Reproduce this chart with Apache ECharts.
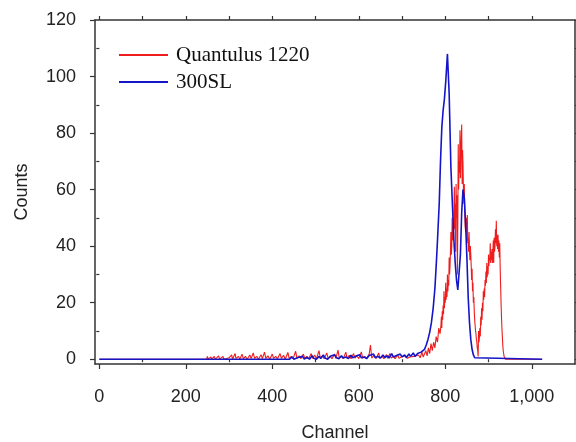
<!DOCTYPE html>
<html><head><meta charset="utf-8">
<script src="https://cdn.jsdelivr.net/npm/echarts@6/dist/echarts.min.js"></script>
<style>html,body{margin:0;padding:0;background:#fff}#c{width:576px;height:442px}</style>
</head><body><div id="c"></div>
<script>
var xLabelTicks = [0, 200, 400, 600, 800, 1000];
var xMinorTicks = [100, 300, 500, 700, 900];
var yLabelTicks = [0, 20, 40, 60, 80, 100, 120];
var yMinorTicks = [10, 30, 50, 70, 90, 110];
var seriesNames = ['Quantulus 1220', '300SL'];

// Quantulus 1220: sparse low-level region (channel, counts)
var quantulusLowChannel = [0,248,250,252,258,260,266,268,276,278,286,288,300,306,308,314,316,322,325,330,333,338,342,348,351,356,359,364,368,374,377,382,385,390,394,400,403,408,412,418,421,426,430,436,439,444,448,454,457,462,466,472,475,480,484,490,493,498,502,508,511,516,520,526,529,534,538,544,547,552,555,560,564,570,573,578,582,588,591,596,600,606,609,614,618,624,627,630,636,640,646,649,654,658,664,667,672,675,680,684,690,693,698,702,708,712,718,722,728,732,738,742,746,749,752,755,758,761,764,767,770,773,776,779,782,785,788];
var quantulusLowCounts = [0,0,1,0,0.8,0,1,0,1.2,0,1,0,0.5,1.5,0,2,0.3,1,0,1.8,0.2,1,0,1.5,0.2,2.2,0.3,1,0,1.6,0.2,2.5,0.3,1.2,0,1.8,0.3,1,0.2,2,0.3,1.4,0,2.4,0.3,1,0.2,2.8,0.4,1.2,0.2,1.8,0.3,1,0.2,2,0.3,1.5,0.2,3,0.5,1.2,0.2,2.2,0.3,1,0.2,1.8,0.3,3.2,0.4,1,0.2,2.5,0.3,1.4,0.2,2,0.4,1.2,0.2,2.6,0.3,1,0.2,1.8,5,0.4,1.5,0.2,2.2,0.3,1,0.2,1.6,0.3,2,0.4,1,0.2,1.5,0.3,0.8,0.2,1.2,0.3,0.8,0.2,1,0.3,1.5,0.5,2.5,0.8,1.5,3,1.2,4,2,5.5,3,6,4,8,6,11,9];
// Quantulus 1220: peak region, one value per channel starting at channel 790
var quantulusPeakStart = 790;
var quantulusPeakCounts = [
  12,15,11,17,14,19,16,24,18,22,20,
  27,21,25,22,30,24,28,26,36,30,
  33,38,45,37,40,50,42,47,44,52,
  61,46,55,38,62,50,58,30,48,76,
  60,70,66,81,64,72,78,83,62,74,
  69,60,55,62,52,47,45,50,48,42,
  51,41,43,38,45,39,35,40,37,33,
  28,32,24,27,20,22,17,14,12,10,
  9,7,6,4,3,1,10,6,8,11,
  8,15,12,18,14,20,17,24,21,25,
  22,28,26,31,27,34,29,33,30,37,
  33,36,35,41,34,38,35,39,34,37,
  42,34,43,38,40,46,41,49,40,44,
  39,44,38,42,36,41,32,26,20,15,
  11,8,5,3,2,1,0.5,0.3,0,0];
var quantulusTailChannel = [1024];
var quantulusTailCounts = [0];

var sl300Channel = [0,440,446,450,458,462,470,474,480,486,492,496,502,508,512,518,522,528,534,538,544,548,554,560,564,570,576,582,586,592,596,602,606,612,618,624,628,634,638,644,650,656,660,666,670,676,680,686,690,696,700,706,710,716,720,726,730,736,740,744,748,752,756,760,764,768,772,776,779,782,786,789,792,795,798,801,805,809,813,817,820,823,826,829,832,835,838,841,844,847,850,853,856,859,862,865,868,871,1024];
var sl300Counts = [0,0,0.8,0,0.5,0,1,0,0.6,0,1.2,0.3,0,1,0.2,1.5,0.4,0,1,0.3,1.6,0.5,0.2,1.2,0.4,0.8,0.2,1.4,0.5,1,0.3,1.6,0.5,0.8,0.2,1.3,0.6,1.8,0.5,1,0.4,1.5,0.6,1.2,0.4,2,0.8,1.2,0.5,1.8,0.8,1.5,0.6,1.8,1,2.2,1,2,1.5,2.5,2.8,3.5,5,7,9.5,13,18,25,33,42,55,70,82,88,92,98,108,94,68,53,42,34,28,24.5,25,37,52,60,57,48,36,22,13,7,3.5,1.5,0.5,0,0];

function pairs(xs, ys) { return xs.map(function (x, i) { return [x, ys[i]]; }); }
var quantulusData = pairs(quantulusLowChannel, quantulusLowCounts)
  .concat(quantulusPeakCounts.map(function (v, i) { return [quantulusPeakStart + i, v]; }))
  .concat(pairs(quantulusTailChannel, quantulusTailCounts));
var sl300Data = pairs(sl300Channel, sl300Counts);

var chart = echarts.init(document.getElementById('c'), null, {renderer: 'canvas'});
var axisCol = '#333';
var lblFont = {fontFamily: 'Liberation Sans', fontSize: 18, color: '#222'};
var XMIN = -10, XMAX = 1100, YMIN = -1.7, YMAX = 120;
chart.setOption({
  animation: false,
  backgroundColor: '#fff',
  grid: {left: 95, right: 1, top: 20, bottom: 78, containLabel: false, outerBoundsMode: 'none'},
  legend: {
    orient: 'vertical', left: 114, top: 39, itemWidth: 49, itemHeight: 2, itemGap: 5,
    icon: 'rect',
    textStyle: {fontFamily: 'Liberation Serif', fontSize: 21, color: '#111', lineHeight: 22, padding: [0, 0, 0, 3]},
    data: seriesNames
  },
  xAxis: [
    {type: 'value', position: 'bottom', min: XMIN, max: XMAX,
     axisLine: {show: true, onZero: false, lineStyle: {color: axisCol, width: 1.5}},
     axisTick: {show: true, inside: false, length: 5, customValues: xLabelTicks, lineStyle: {color: axisCol, width: 1.2}},
     axisLabel: Object.assign({margin: 24, customValues: xLabelTicks,
       formatter: function (v) { return v >= 1000 ? (Math.floor(v / 1000) + ',' + String(v % 1000).padStart(3, '0')) : String(v); }}, lblFont),
     splitLine: {show: false},
     name: 'Channel', nameLocation: 'middle', nameGap: 60,
     nameTextStyle: {fontFamily: 'Liberation Sans', fontSize: 18, color: '#222'}},
    {type: 'value', position: 'bottom', min: XMIN, max: XMAX,
     axisLine: {show: false},
     axisTick: {show: true, length: 3, customValues: xMinorTicks, lineStyle: {color: axisCol, width: 1.2}},
     axisLabel: {show: false}, splitLine: {show: false}},
    {type: 'value', position: 'top', min: XMIN, max: XMAX,
     axisLine: {show: true, onZero: false, lineStyle: {color: axisCol, width: 1.5}},
     axisTick: {show: true, length: 4, customValues: xLabelTicks.concat(xMinorTicks), lineStyle: {color: axisCol, width: 1.2}},
     axisLabel: {show: false}, splitLine: {show: false}}
  ],
  yAxis: [
    {type: 'value', position: 'left', min: YMIN, max: YMAX,
     axisLine: {show: true, onZero: false, lineStyle: {color: axisCol, width: 1.5}},
     axisTick: {show: true, length: 5, customValues: yLabelTicks, lineStyle: {color: axisCol, width: 1.2}},
     axisLabel: Object.assign({margin: 19, customValues: yLabelTicks}, lblFont),
     splitLine: {show: false},
     name: 'Counts', nameLocation: 'middle', nameGap: 64, nameRotate: 90,
     nameTextStyle: {fontFamily: 'Liberation Sans', fontSize: 18, color: '#222'}},
    {type: 'value', position: 'left', min: YMIN, max: YMAX,
     axisLine: {show: false},
     axisTick: {show: true, length: 3, customValues: yMinorTicks, lineStyle: {color: axisCol, width: 1.2}},
     axisLabel: {show: false}, splitLine: {show: false}},
    {type: 'value', position: 'right', min: YMIN, max: YMAX,
     axisLine: {show: true, onZero: false, lineStyle: {color: axisCol, width: 1.5}},
     axisTick: {show: true, length: 4, customValues: yLabelTicks.concat(yMinorTicks), lineStyle: {color: axisCol, width: 1.2}},
     axisLabel: {show: false}, splitLine: {show: false}}
  ],
  series: [
    {name: seriesNames[0], type: 'line', xAxisIndex: 0, yAxisIndex: 0, symbol: 'none',
     data: quantulusData,
     lineStyle: {color: '#ee1c1c', width: 1.1}, itemStyle: {color: '#ee1c1c'}},
    {name: seriesNames[1], type: 'line', xAxisIndex: 0, yAxisIndex: 0, symbol: 'none',
     data: sl300Data,
     lineStyle: {color: '#1414c8', width: 1.6}, itemStyle: {color: '#1414c8'}}
  ]
});
</script></body></html>
